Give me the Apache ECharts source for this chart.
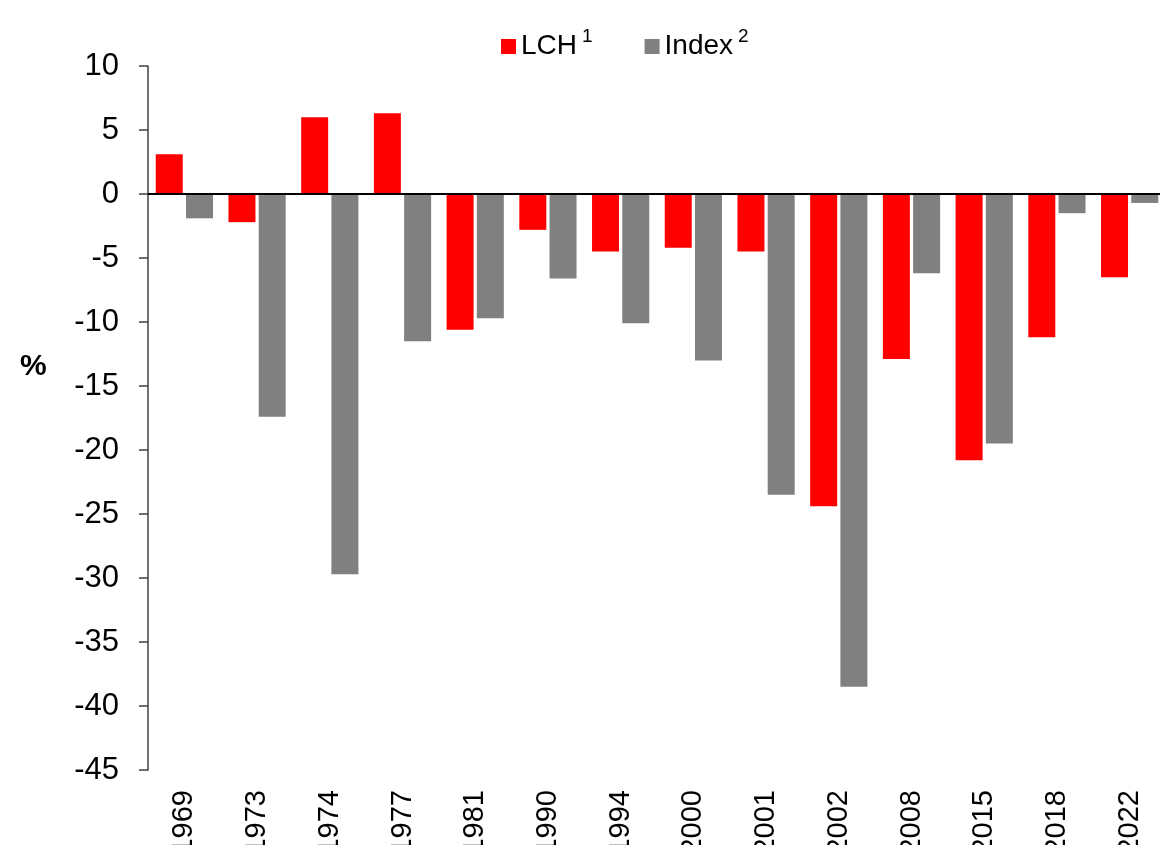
<!DOCTYPE html>
<html>
<head>
<meta charset="utf-8">
<script src="https://cdn.jsdelivr.net/npm/echarts@6/dist/echarts.min.js"></script>
<style>
  html, body { margin: 0; padding: 0; background: #fff; }
  #chart { width: 1160px; height: 845px; }
</style>
</head>
<body>
<div id="chart"></div>
<script>
// values (%)
var years = ['1969', '1973', '1974', '1977', '1981', '1990', '1994', '2000', '2001', '2002', '2008', '2015', '2018', '2022'];
var lchValues = [3.1, -2.2, 6.0, 6.3, -10.6, -2.8, -4.5, -4.2, -4.5, -24.4, -12.9, -20.8, -11.2, -6.5];
var indexValues = [-1.9, -17.4, -29.7, -11.5, -9.7, -6.6, -10.1, -13.0, -23.5, -38.5, -6.2, -19.5, -1.5, -0.7];

var FONT = 'Liberation Sans, Arial, sans-serif';

var myChart = echarts.init(document.getElementById('chart'), null, { renderer: 'canvas' });

var option = {
    animation: false,
    textStyle: { fontFamily: FONT, color: '#000' },
    graphic: [
        {
            type: 'text',
            left: 20,
            top: 352,
            style: { text: '%', font: 'bold 30px ' + FONT, fill: '#000' }
        }
    ],
    legend: {
        left: 496,
        top: 22,
        icon: 'rect',
        itemWidth: 15,
        itemHeight: 15,
        itemGap: 52,
        textStyle: {
            fontFamily: FONT,
            fontSize: 28,
            color: '#000',
            rich: {
                n: { fontSize: 28, fontFamily: FONT, color: '#000' },
                s: { fontSize: 19, fontFamily: FONT, color: '#000', padding: [0, 0, 20, 5] }
            }
        },
        formatter: function (name) {
            var sup = name === 'LCH' ? '1' : '2';
            return '{n|' + name + '}{s|' + sup + '}';
        },
        data: ['LCH', 'Index']
    },
    grid: {
        left: 148,
        top: 66,
        width: 1018,
        height: 704,
        containLabel: false,
        outerBoundsMode: 'none'
    },
    xAxis: {
        type: 'category',
        data: years,
        axisLine: { show: false },
        axisTick: { show: false },
        axisLabel: {
            rotate: 90,
            fontSize: 29,
            fontFamily: FONT,
            color: '#000',
            margin: 20,
            interval: 0
        }
    },
    yAxis: {
        type: 'value',
        min: -45,
        max: 10,
        interval: 5,
        axisLine: { show: true, lineStyle: { color: '#404040', width: 1.5 } },
        axisTick: { show: true, inside: false, length: 9, lineStyle: { color: '#404040', width: 1.5 } },
        splitLine: { show: false },
        axisLabel: {
            fontSize: 31,
            fontFamily: FONT,
            color: '#000',
            margin: 29
        }
    },
    series: [
        {
            name: 'LCH',
            type: 'bar',
            data: lchValues,
            barWidth: 27,
            barGap: '12%',
            itemStyle: { color: '#ff0000' },
            markLine: {
                silent: true,
                symbol: 'none',
                label: { show: false },
                lineStyle: { color: '#000', width: 2, type: 'solid' },
                data: [{ yAxis: 0 }]
            }
        },
        {
            name: 'Index',
            type: 'bar',
            data: indexValues,
            barWidth: 27,
            barGap: '12%',
            itemStyle: { color: '#808080' }
        }
    ]
};

myChart.setOption(option);
</script>
</body>
</html>
